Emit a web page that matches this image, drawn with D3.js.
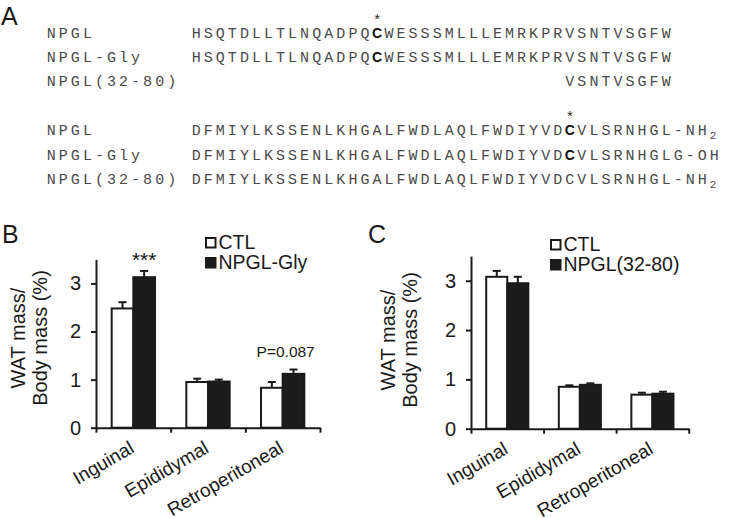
<!DOCTYPE html>
<html>
<head>
<meta charset="utf-8">
<title>NPGL peptides and WAT mass</title>
<style>
body {
  margin: 0;
  background: #fff;
}
svg {
  display: block;
}
.mono {
  font-family: "Liberation Mono", "DejaVu Sans Mono", monospace;
  font-size: 15px;
  fill: #4a4a4a;
}
.sans {
  font-family: "Liberation Sans", Arial, sans-serif;
  fill: #1a1a1a;
}
.axis path, .axis line {
  stroke: #1a1a1a;
  stroke-width: 2;
}
</style>
<script src="https://cdn.jsdelivr.net/npm/d3@7"></script>
</head>
<body>
<svg id="fig" width="734" height="518"></svg>
<script>
// panel A: sequence alignment
const seqNames = ["NPGL", "NPGL-Gly", "NPGL(32-80)"];
const seqTop = ["HSQTDLLTLNQADPQCWESSSMLLLEMRKPRVSNTVSGFW",
                "HSQTDLLTLNQADPQCWESSSMLLLEMRKPRVSNTVSGFW",
                "VSNTVSGFW"];
const seqTopStart = [0, 0, 31];
const seqBottom = ["DFMIYLKSSENLKHGALFWDLAQLFWDIYVDCVLSRNHGL-NH",
                   "DFMIYLKSSENLKHGALFWDLAQLFWDIYVDCVLSRNHGLG-OH",
                   "DFMIYLKSSENLKHGALFWDLAQLFWDIYVDCVLSRNHGL-NH"];
const seqSub = ["2", "", "2"];
const boldTop = [15, 15, -1];     // cysteine shown in bold
const boldBottom = [31, 31, -1];

// panels B and C
const categories = ["Inguinal", "Epididymal", "Retroperitoneal"];
const yTicks = [0, 1, 2, 3];

const seriesB = ["CTL", "NPGL-Gly"];
const ctlB = [2.48, 0.95, 0.83];
const ctlBErr = [0.13, 0.07, 0.12];
const glyB = [3.13, 0.96, 1.12];
const glyBErr = [0.13, 0.04, 0.09];
const notesB = ["***", "", "P=0.087"];

const seriesC = ["CTL", "NPGL(32-80)"];
const ctlC = [3.08, 0.85, 0.69];
const ctlCErr = [0.12, 0.03, 0.04];
const npglC = [2.95, 0.89, 0.71];
const npglCErr = [0.13, 0.03, 0.04];
const notesC = ["", "", ""];

const svg = d3.select("#fig");

// ---------- panel A ----------
const adv = 12.05, nameX = 46.7, seqX = 191.7;
const rowY = [38.3, 61.7, 86, 135, 159.5, 183.5];

svg.append("text").attr("class", "sans")
  .attr("x", 1).attr("y", 25).attr("font-size", 25).text("A");

function xs(x0, i0, n) {
  return d3.range(n).map(k => (x0 + (i0 + k) * adv).toFixed(1)).join(" ");
}

function seqRow(y, name, seq, start, bold, sub, star) {
  svg.append("text").attr("class", "mono")
    .attr("x", xs(nameX, 0, name.length)).attr("y", y).text(name);
  const t = svg.append("text").attr("class", "mono").attr("y", y);
  const pre = bold >= 0 ? seq.slice(0, bold) : seq;
  t.append("tspan").attr("x", xs(seqX, start, pre.length)).text(pre);
  if (bold >= 0) {
    t.append("tspan")
      .attr("x", (seqX + (start + bold) * adv - 0.5).toFixed(1))
      .style("font-family", "'Liberation Sans', Arial, sans-serif")
      .style("font-weight", "bold").style("font-size", "14px").style("fill", "#111")
      .text(seq[bold]);
    const post = seq.slice(bold + 1);
    t.append("tspan").attr("x", xs(seqX, start + bold + 1, post.length)).text(post);
    if (star) {
      svg.append("text").attr("class", "mono")
        .attr("x", seqX + (start + bold) * adv + 0.5).attr("y", y - 13)
        .style("font-size", "14px").style("fill", "#222").text("*");
    }
  }
  if (sub) {
    t.append("tspan").attr("x", (seqX + (start + seq.length) * adv).toFixed(1))
      .attr("dy", 4).style("font-size", "11px").text(sub);
  }
}

seqNames.forEach((n, i) => seqRow(rowY[i], n, seqTop[i], seqTopStart[i], boldTop[i], "", i === 0));
seqNames.forEach((n, i) => seqRow(rowY[i + 3], n, seqBottom[i], 0, boldBottom[i], seqSub[i], i === 0));

// ---------- panels B, C ----------
function drawPanel(p) {
  const g = svg.append("g");
  const x = d3.scaleBand().domain(categories).range([p.x0, p.x1]);
  const bw = x.bandwidth();
  const inner = d3.scaleBand().domain(p.series).range([bw * 0.21, bw * 0.79]);
  const y = d3.scaleLinear().domain([0, 3.5]).range([p.y0, p.y1]);

  const rows = categories.flatMap((c, i) => p.series.map((s, j) => (
    { c: c, s: s, j: j, v: p.vals[j][i], e: p.errs[j][i] })));

  // error bars behind the bars
  const eb = g.append("g").attr("stroke", "#1a1a1a").attr("stroke-width", 2);
  eb.selectAll("line.v").data(rows).join("line").attr("class", "v")
    .attr("x1", d => x(d.c) + inner(d.s) + inner.bandwidth() / 2)
    .attr("x2", d => x(d.c) + inner(d.s) + inner.bandwidth() / 2)
    .attr("y1", d => y(d.v)).attr("y2", d => y(d.v + d.e));
  eb.selectAll("line.h").data(rows).join("line").attr("class", "h")
    .attr("x1", d => x(d.c) + inner(d.s) + inner.bandwidth() / 2 - 4)
    .attr("x2", d => x(d.c) + inner(d.s) + inner.bandwidth() / 2 + 4)
    .attr("y1", d => y(d.v + d.e)).attr("y2", d => y(d.v + d.e));

  g.selectAll("rect.bar").data(rows).join("rect").attr("class", "bar")
    .attr("x", d => x(d.c) + inner(d.s))
    .attr("width", inner.bandwidth())
    .attr("y", d => y(d.v))
    .attr("height", d => y(0) - y(d.v))
    .attr("fill", d => d.j ? "#1c1c1c" : "#fff")
    .attr("stroke", "#1a1a1a").attr("stroke-width", 2);

  // y axis
  const ya = g.append("g").attr("class", "axis")
    .attr("transform", `translate(${p.x0},0)`)
    .call(d3.axisLeft(y).tickValues(yTicks).tickFormat(d3.format("d"))
      .tickSize(5).tickSizeOuter(0).tickPadding(10));
  ya.selectAll("text").attr("class", "sans").attr("font-size", 20).attr("fill", "#1a1a1a");

  // x axis with ticks between categories
  const xb = d3.scaleLinear().domain([0, categories.length]).range([p.x0, p.x1]);
  g.append("g").attr("class", "axis")
    .attr("transform", `translate(0,${p.y0})`)
    .call(d3.axisBottom(xb).tickValues(d3.range(categories.length + 1))
      .tickFormat("").tickSize(5).tickSizeOuter(0));

  g.selectAll("text.cat").data(categories).join("text").attr("class", "sans cat")
    .attr("font-size", 19).attr("text-anchor", "end")
    .attr("transform", c => `translate(${x(c) + bw / 2 + 2},${p.y0 + 24}) rotate(-30)`)
    .text(c => c);

  // y title
  const tt = g.append("g").attr("class", "sans").attr("font-size", 20).attr("text-anchor", "middle");
  tt.append("text").attr("transform", `translate(${p.tx[0]},${p.ty}) rotate(-90)`).text("WAT mass/");
  tt.append("text").attr("transform", `translate(${p.tx[1]},${p.ty}) rotate(-90)`).text("Body mass (%)");

  // panel letter
  g.append("text").attr("class", "sans").attr("font-size", 25)
    .attr("x", p.letterX).attr("y", 243).text(p.letter);

  // legend
  const lg = g.append("g").attr("transform", `translate(${p.lx},${p.ly})`);
  p.series.forEach((s, j) => {
    lg.append("rect").attr("x", 1).attr("y", j * 20 + 1).attr("width", 9.5).attr("height", 9.5)
      .attr("fill", j ? "#1c1c1c" : "#fff").attr("stroke", "#1a1a1a").attr("stroke-width", 2);
    lg.append("text").attr("class", "sans").attr("font-size", 19.5)
      .attr("x", 13.5).attr("y", j * 20 + 11.5)
      .text(s);
  });

  // significance notes above the treated bar
  categories.forEach((c, i) => {
    const note = p.notes[i];
    if (!note) return;
    const top = y(p.vals[1][i] + p.errs[1][i]);
    const big = note.startsWith("*");
    g.append("text").attr("class", "sans").attr("text-anchor", "middle")
      .attr("font-size", big ? 21 : 15.5)
      .attr("x", big ? x(c) + inner(p.series[1]) + inner.bandwidth() / 2 : x(c) + bw / 2 + 3)
      .attr("y", big ? top - 4 : top - 13)
      .text(note);
  });
}

drawPanel({
  x0: 96, x1: 320, y0: 427.7, y1: 259.4,
  series: seriesB, vals: [ctlB, glyB], errs: [ctlBErr, glyBErr], notes: notesB,
  tx: [25, 47], ty: 338, letter: "B", letterX: 2, lx: 205, ly: 237
});

drawPanel({
  x0: 471, x1: 688.7, y0: 428.7, y1: 256.1,
  series: seriesC, vals: [ctlC, npglC], errs: [ctlCErr, npglCErr], notes: notesC,
  tx: [395, 416.5], ty: 340, letter: "C", letterX: 368, lx: 550, ly: 239
});
</script>
</body>
</html>
